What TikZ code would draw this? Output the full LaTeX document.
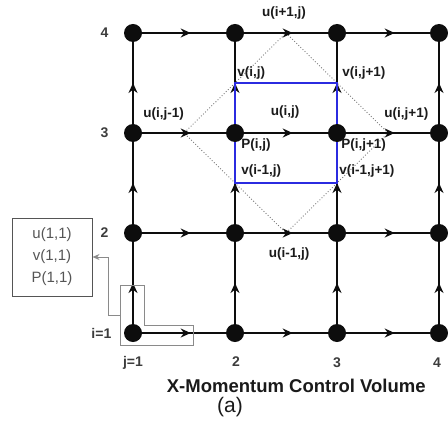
\documentclass[tikz,border=0pt]{standalone}
\usepackage{fontspec}
\setmainfont{Liberation Sans}
\usetikzlibrary{arrows.meta,positioning,backgrounds,decorations.markings}
\definecolor{gridink}{HTML}{0D0D0D}
\definecolor{labink}{HTML}{1A1A1A}
\definecolor{cvblue}{HTML}{2B2BE0}
\definecolor{dotgray}{HTML}{7A7A7A}
\definecolor{hlgray}{HTML}{8A8A8A}
\definecolor{boxgray}{HTML}{555555}
\tikzset{
  >={Stealth[length=10pt,width=9pt]},
  % gitter
  gp/.style={circle,fill=gridink,inner sep=0pt,minimum size=18pt},
  gl/.style={draw=gridink,line width=1.6pt},
  gf/.style={gl,postaction={decorate},decoration={markings,
      mark=at position #1 with {\arrow[gridink]{>}}}},
  gf/.default=0.58,
  cv/.style={draw=cvblue,line width=1.9pt},
  ucv/.style={draw=dotgray,line width=0.9pt,dotted},
  % texter
  lab/.style={font=\fontsize{13.5}{15}\selectfont\bfseries,text=labink,inner sep=0pt},
  idx/.style={font=\fontsize{14}{16}\selectfont\bfseries,text=labink!85,inner sep=0pt},
  ttl/.style={font=\fontsize{18.5}{22}\selectfont\bfseries,text=labink,inner sep=0pt},
  sub/.style={font=\fontsize{21}{24}\selectfont,text=labink,inner sep=0pt},
  % startvärden
  initbox/.style={draw=boxgray,line width=1pt,align=center,text=boxgray,
      font=\fontsize{15}{22}\selectfont,minimum width=80pt,minimum height=78pt},
  hl/.style={draw=hlgray,line width=0.9pt},
  hlarr/.style={->,draw=hlgray,line width=0.9pt,>={Stealth[length=7pt,width=6pt]}},
}

\begin{document}
\begin{tikzpicture}[x=102pt,y=100pt]
  \useasboundingbox (-0.304,0) rectangle (4.088,4.33);
  % punkter
  \node[gp] (g11) at (1,1) {};
  \node[gp] (g12) at (2,1) {};
  \node[gp] (g13) at (3,1) {};
  \node[gp] (g14) at (4,1) {};
  \node[gp] (g21) at (1,2) {};
  \node[gp] (g22) at (2,2) {};
  \node[gp] (g23) at (3,2) {};
  \node[gp] (g24) at (4,2) {};
  \node[gp] (g31) at (1,3) {};
  \node[gp] (g32) at (2,3) {};
  \node[gp] (g33) at (3,3) {};
  \node[gp] (g34) at (4,3) {};
  \node[gp] (g41) at (1,4) {};
  \node[gp] (g42) at (2,4) {};
  \node[gp] (g43) at (3,4) {};
  \node[gp] (g44) at (4,4) {};
  % kontrollvolym
  \coordinate (uN) at (2.5,4);
  \coordinate (uE) at (3.5,3);
  \coordinate (uS) at (2.5,2);
  \coordinate (uW) at (1.5,3);
  \coordinate (vNW) at (2,3.5);
  \coordinate (vSE) at (3,2.5);
  \begin{scope}[on background layer]
  \draw[ucv] (uN) -- (uE) -- (uS) -- (uW) -- cycle;
  \draw[gf] (g11) -- (g12);
  \draw[gf] (g12) -- (g13);
  \draw[gf] (g13) -- (g14);
  \draw[gf] (g21) -- (g22);
  \draw[gf] (g22) -- (g23);
  \draw[gf] (g23) -- (g24);
  \draw[gf] (g31) -- (g32);
  \draw[gf] (g32) -- (g33);
  \draw[gf] (g33) -- (g34);
  \draw[gf] (g41) -- (g42);
  \draw[gf] (g42) -- (g43);
  \draw[gf] (g43) -- (g44);
  \draw[gf=0.5] (g11) -- (g21);
  \draw[gf=0.5] (g21) -- (g31);
  \draw[gf=0.5] (g31) -- (g41);
  \draw[gf=0.5] (g12) -- (g22);
  \draw[gf=0.5] (g22) -- (g32);
  \draw[gf=0.5] (g32) -- (g42);
  \draw[gf=0.5] (g13) -- (g23);
  \draw[gf=0.5] (g23) -- (g33);
  \draw[gf=0.5] (g33) -- (g43);
  \draw[gf=0.5] (g14) -- (g24);
  \draw[gf=0.5] (g24) -- (g34);
  \draw[gf=0.5] (g34) -- (g44);
  \draw[cv] (vNW) rectangle (vSE);
  \end{scope}
  % beteckningar
  \node[lab] (uip) at (2.48,4.20) {u(i+1,j)};
  \node[lab,anchor=west] (vij) at (2.02,3.60) {v(i,j)};
  \node[lab,anchor=west] (vijp) at (3.05,3.60) {v(i,j+1)};
  \node[lab] (ujm) at (1.30,3.19) {u(i,j-1)};
  \node[lab] (uij) at (2.49,3.21) {u(i,j)};
  \node[lab] (ujp) at (3.68,3.19) {u(i,j+1)};
  \node[lab,anchor=west] (pij) at (2.06,2.88) {P(i,j)};
  \node[lab,anchor=west] (pijp) at (3.04,2.88) {P(i,j+1)};
  \node[lab,anchor=west] (vim) at (2.06,2.62) {v(i-1,j)};
  \node[lab,anchor=west] (vimp) at (3.02,2.62) {v(i-1,j+1)};
  \node[lab] (uim) at (2.53,1.79) {u(i-1,j)};
  % index
  \node[idx] (r4) at (0.72,4) {4};
  \node[idx] (r3) at (0.72,3) {3};
  \node[idx] (r2) at (0.72,2) {2};
  \node[idx] (r1) at (0.69,1) {i=1};
  \node[idx] (c1) at (1.00,0.70) {j=1};
  \node[idx] (c2) at (2.01,0.71) {2};
  \node[idx] (c3) at (3.00,0.70) {3};
  \node[idx] (c4) at (3.98,0.70) {4};
  \node[ttl] (title) at (2.60,0.475) {X-Momentum Control Volume};
  \node[sub] (fig) at (1.95,0.255) {(a)};
  % startpunkt
  \node[initbox] (init) at (0.206,1.76) {u(1,1)\\v(1,1)\\P(1,1)};
  \draw[hl] (0.873,1.48) -- (1.108,1.48) -- (1.108,1.08) -- (1.588,1.08)
    -- (1.588,0.88) -- (0.873,0.88) -- cycle;
  \coordinate (hlw) at (0.873,1.18);
  \draw[hlarr] (hlw) -- ++(-0.118,0) |- (init.east);
\end{tikzpicture}
\end{document}
